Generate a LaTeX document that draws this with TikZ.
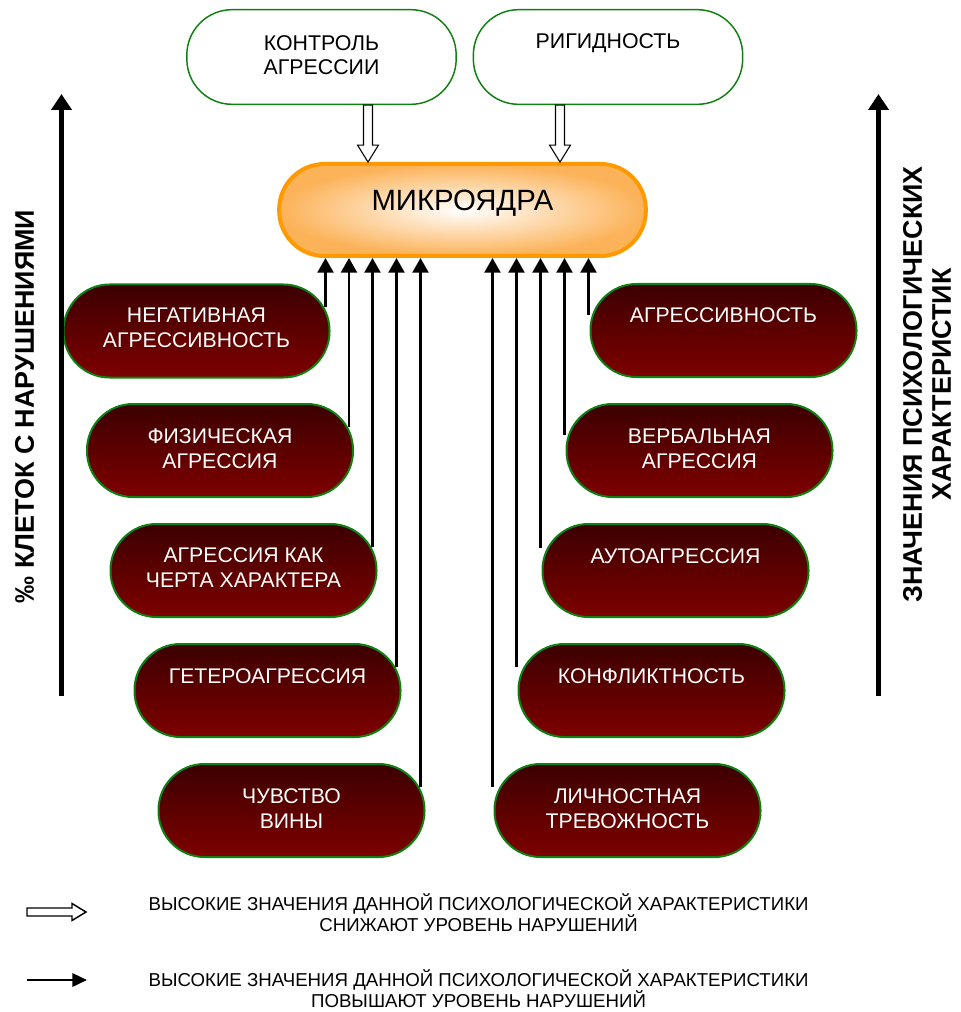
\documentclass[tikz,border=0pt]{standalone}
\usepackage{fontspec}
\setmainfont{Liberation Sans}
\usetikzlibrary{arrows.meta,calc}
\definecolor{grn}{RGB}{16,128,16}
\definecolor{redtop}{RGB}{60,0,0}
\definecolor{redbot}{RGB}{126,0,0}
\definecolor{orng}{RGB}{255,153,0}
\definecolor{orngin}{RGB}{252,178,88}
\begin{document}
\begin{tikzpicture}[x=0.75pt,y=-0.75pt,
  topbox/.style={draw=grn, line width=1.1pt, fill=white, rounded corners=34pt,
    minimum width=202pt, minimum height=71pt, inner sep=0pt},
  redbox/.style={draw=grn, line width=1.5pt, top color=redtop, bottom color=redbot,
    rounded corners=34.5pt, minimum width=199.5pt, minimum height=69.75pt, inner sep=0pt},
  microbox/.style={draw=orng, line width=3pt, inner color=white, outer color=orngin,
    rounded corners=34pt, minimum width=275pt, minimum height=69pt, inner sep=0pt},
  redtxt/.style={text=white, font=\fontsize{15.9pt}{18.75pt}\selectfont, align=center, inner sep=0pt},
  toptxt/.style={text=black, font=\fontsize{16pt}{18pt}\selectfont, align=center, inner sep=0pt},
  microtxt/.style={text=black, font=\fontsize{22pt}{25pt}\selectfont, inner sep=0pt},
  uparr/.style={-{Triangle[length=11pt,width=12pt]}, line width=1.8pt},
  hollowarr/.style={draw=black, line width=0.8pt, fill=white},
  legholl/.style={draw=black, line width=1.1pt, fill=white},
  axisarr/.style={-{Triangle[length=12pt,width=15pt]}, line width=4pt},
  axistxt/.style={font=\bfseries\fontsize{20.2pt}{21.75pt}\selectfont, align=center, rotate=90, inner sep=0pt},
  legtxt/.style={font=\fontsize{14pt}{15.75pt}\selectfont, align=center, inner sep=0pt},
  legarr/.style={-{Triangle[length=11pt,width=10pt]}, line width=1.9pt}
]
\useasboundingbox (0,0) rectangle (960,1012);

% top boxes
\node[topbox] (ctl) at (321.5,57) {};
\node[toptxt] (ctlt) at ($(ctl)+(0,-2)$) {КОНТРОЛЬ\\АГРЕССИИ};
\node[topbox] (rig) at (608,57) {};
\node[toptxt] (rigt) at ($(rig)+(0,-14)$) {РИГИДНОСТЬ};

% central node
\node[microbox] (mic) at (462.5,210) {};
\node[microtxt] (mict) at ($(mic)+(0,-7)$) {МИКРОЯДРА};

% hollow arrows
\path (ctl.south) ++(46.5,0) coordinate (h1);
\path (rig.south) ++(-48,0) coordinate (h2);
\foreach \h in {h1,h2}{
  \draw[hollowarr] (\h) ++(-4.5,0) -- ++(0,40) -- ++(-6,0) -- ++(10.5,17) -- ++(10.5,-17)
    -- ++(-6,0) -- ++(0,-40) -- cycle;
}

% left nodes
\node[redbox] (L1) at (196.5,331) {};
\node[redtxt] (L1t) at ($(L1)+(0,-3.5)$) {НЕГАТИВНАЯ\\АГРЕССИВНОСТЬ};
\node[redbox] (L2) at (220,450.5) {};
\node[redtxt] (L2t) at ($(L2)+(0,-2)$) {ФИЗИЧЕСКАЯ\\АГРЕССИЯ};
\node[redbox] (L3) at (243.5,570.5) {};
\node[redtxt] (L3t) at ($(L3)+(0,-3)$) {АГРЕССИЯ КАК\\ЧЕРТА ХАРАКТЕРА};
\node[redbox] (L4) at (267.5,690.5) {};
\node[redtxt] (L4t) at ($(L4)+(0,-14.5)$) {ГЕТЕРОАГРЕССИЯ};
\node[redbox] (L5) at (291.5,810.5) {};
\node[redtxt] (L5t) at ($(L5)+(0,-1.5)$) {ЧУВСТВО\\ВИНЫ};

% right nodes
\node[redbox] (R1) at (723.5,330.5) {};
\node[redtxt] (R1t) at ($(R1)+(0,-15.5)$) {АГРЕССИВНОСТЬ};
\node[redbox] (R2) at (699.5,450.5) {};
\node[redtxt] (R2t) at ($(R2)+(0,-2)$) {ВЕРБАЛЬНАЯ\\АГРЕССИЯ};
\node[redbox] (R3) at (675.5,570.5) {};
\node[redtxt] (R3t) at ($(R3)+(0,-14.5)$) {АУТОАГРЕССИЯ};
\node[redbox] (R4) at (651.5,690.5) {};
\node[redtxt] (R4t) at ($(R4)+(0,-14.5)$) {КОНФЛИКТНОСТЬ};
\node[redbox] (R5) at (627.5,810.5) {};
\node[redtxt] (R5t) at ($(R5)+(0,-2)$) {ЛИЧНОСТНАЯ\\ТРЕВОЖНОСТЬ};

% arrows into central node
\foreach \n in {L1,L2,L3,L4,L5}{
  \coordinate (s\n) at ($(\n.north east)+(-5,23.5)$);
  \draw[uparr] (s\n) -- (s\n |- mic.south);
}
\foreach \n/\d in {R1/32,R2/32,R3/25,R4/24,R5/24}{
  \coordinate (s\n) at ($(\n.north west)+(-1,\d)$);
  \draw[uparr] (s\n) -- (s\n |- mic.south);
}

% axes
\coordinate (axL0) at (61.5,696);
\coordinate (axL1) at (61.5,94);
\draw[axisarr] (axL0) -- (axL1);
\coordinate (axR0) at (878.5,696);
\coordinate (axR1) at (878.5,94);
\draw[axisarr] (axR0) -- (axR1);
\node[axistxt] (axLt) at (24.5,406.5) {‰ КЛЕТОК С НАРУШЕНИЯМИ};
\node[axistxt] (axRt) at (927,384.5) {ЗНАЧЕНИЯ ПСИХОЛОГИЧЕСКИХ\\ХАРАКТЕРИСТИК};

% legend
\draw[legholl] (27,908) -- (72,908) -- (72,903.5) -- (86,912) -- (72,920.5) -- (72,916) -- (27,916) -- cycle;
\node[legtxt] (leg1) at (478.5,912.5) {ВЫСОКИЕ ЗНАЧЕНИЯ ДАННОЙ ПСИХОЛОГИЧЕСКОЙ ХАРАКТЕРИСТИКИ\\СНИЖАЮТ УРОВЕНЬ НАРУШЕНИЙ};
\coordinate (lgA) at (27,980);
\coordinate (lgB) at (87,980);
\draw[legarr] (lgA) -- (lgB);
\node[legtxt] (leg2) at (478.5,988.5) {ВЫСОКИЕ ЗНАЧЕНИЯ ДАННОЙ ПСИХОЛОГИЧЕСКОЙ ХАРАКТЕРИСТИКИ\\ПОВЫШАЮТ УРОВЕНЬ НАРУШЕНИЙ};
\end{tikzpicture}
\end{document}
